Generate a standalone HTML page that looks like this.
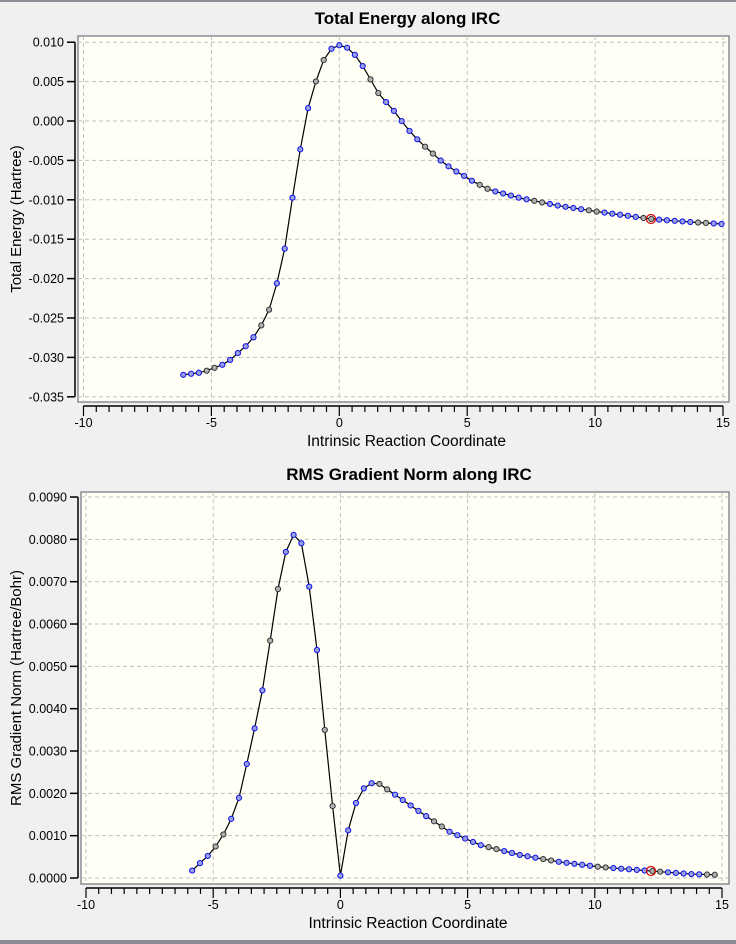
<!DOCTYPE html>
<html><head><meta charset="utf-8"><style>
html,body{margin:0;padding:0;background:#f0f0f0;}
svg{display:block;font-family:"Liberation Sans",Arial,sans-serif;}
</style></head><body>
<svg id="s" width="736" height="944" xmlns="http://www.w3.org/2000/svg"></svg>
<script>
const s=document.getElementById('s');let h='';
h+='<rect x="0" y="0" width="736" height="944" fill="#f0f0f0"/>';
h+='<rect x="0" y="0" width="736" height="2" fill="#8a8e94"/>';
h+='<rect x="0" y="940" width="736" height="4" fill="#8a8e94"/>';
function panel(o){
 const {L,T,R,B,x0,x15,y0px,ypu,ticks,fmt,title,ylab,pts,red,titleY,labY}=o;
 const X=v=>x0+(x15-x0)*(v+10)/25;
 h+=`<rect x="${L}" y="${T}" width="${R-L}" height="${B-T}" fill="#fffff5" stroke="#8a8e94" stroke-width="1.5"/>`;
 for(let v=-10;v<=15;v+=5){const x=X(v);h+=`<line x1="${x}" y1="${T}" x2="${x}" y2="${B}" stroke="#c0c0c0" stroke-dasharray="4,3"/>`;}
 ticks.forEach(t=>{const y=y0px-t*ypu;h+=`<line x1="${L}" y1="${y}" x2="${R}" y2="${y}" stroke="#c0c0c0" stroke-dasharray="4,3"/>`;
  h+=`<line x1="${L-11}" y1="${y}" x2="${L-3}" y2="${y}" stroke="#000" stroke-width="1.5"/>`;
  h+=`<text x="${L-14}" y="${y+4.5}" font-size="12.5" text-anchor="end">${fmt(t)}</text>`;});
 h+=`<line x1="${L-3}" y1="${y0px-ticks[0]*ypu}" x2="${L-3}" y2="${y0px-ticks[ticks.length-1]*ypu}" stroke="#000" stroke-width="1.5"/>`;
 const ay=B+4;
 h+=`<line x1="${X(-10)}" y1="${ay}" x2="${X(15)}" y2="${ay}" stroke="#000" stroke-width="1.5"/>`;
 for(let v=-10;v<=15;v+=0.5){const x=X(v);const maj=Math.abs(v%5)<1e-6;
  h+=`<line x1="${x}" y1="${ay}" x2="${x}" y2="${ay+(maj?10:6)}" stroke="#000" stroke-width="1.2"/>`;
  if(maj)h+=`<text x="${x}" y="${ay+21}" font-size="12.5" text-anchor="middle">${v}</text>`;}
 h+=`<text x="${(L+R)/2+4}" y="${titleY}" font-size="17" font-weight="bold" text-anchor="middle">${title}</text>`;
 h+=`<text x="${(L+R)/2+4-1}" y="${ay+40}" font-size="15.5" text-anchor="middle">Intrinsic Reaction Coordinate</text>`;
 h+=`<text transform="translate(${labY},${(T+B)/2}) rotate(-90)" font-size="15" text-anchor="middle">${ylab}</text>`;
 const xs=[];const c=X(0),st=7.8;
 for(let x=c;x>=pts[0][0]-0.5;x-=st)xs.unshift(x);
 for(let x=c+st;x<=pts[pts.length-1][0]+0.5;x+=st)xs.push(x);
 const out=xs.map(x=>{let i=0;while(i<pts.length-2&&pts[i+1][0]<x)i++;
  const a=pts[i],b=pts[i+1];const t=(x-a[0])/(b[0]-a[0]);return [x,a[1]+(b[1]-a[1])*t];});
 h+=`<polyline points="${out.map(p=>p.join(',')).join(' ')}" fill="none" stroke="#000" stroke-width="1.2"/>`;
 out.forEach((p,i)=>{const g=(i%7==3||i%7==4);h+=`<circle cx="${p[0]}" cy="${p[1]}" r="2.6" fill="${g?'#b0b0b0':'#98a0e0'}" stroke="${g?'#333':'#1010ee'}" stroke-width="1"/>`;});
 h+=`<circle cx="${red[0]}" cy="${red[1]}" r="4.5" fill="none" stroke="#e00000" stroke-width="1.2"/>`;
}
panel({L:78,T:36,R:729,B:402,x0:83.5,x15:723,y0px:121,ypu:39.4/0.005,
 ticks:[0.010,0.005,0,-0.005,-0.010,-0.015,-0.020,-0.025,-0.030,-0.035],fmt:t=>t.toFixed(3),
 title:'Total Energy along IRC',ylab:'Total Energy (Hartree)',titleY:24,labY:21,red:[651,219],
 pts:[[182,375],[189,374],[198,373],[206,371],[214,368],[222,365],[230,360],[238,353],[245,347],[253,338],[261,326],[269,310],[276,287],[283,258],[289,225],[294,186],[300,151],[307,112],[315,84],[323,61],[332,48],[340,45],[348,48],[356,56],[364,68],[372,82],[380,96],[390,106],[398,116],[406,127],[414,136],[422,144],[430,151],[440,160],[448,166],[457,172],[466,177],[474,182],[482,186],[490,190],[520,198],[560,206],[600,212],[651,219],[690,222],[722,224]]});
panel({L:81,T:492,R:729,B:884,x0:86,x15:722,y0px:878,ypu:42.33/0.001,
 ticks:[0.009,0.008,0.007,0.006,0.005,0.004,0.003,0.002,0.001,0],fmt:t=>t.toFixed(4),
 title:'RMS Gradient Norm along IRC',ylab:'RMS Gradient Norm (Hartree/Bohr)',titleY:480,labY:21,red:[651,871],
 pts:[[186,875],[193,870],[199,864],[206,858],[213,850],[219,842],[226,830],[233,815],[240,795],[247,763],[254,731],[260,704],[266,670],[271,635],[278,589],[286,551],[294,534],[302,544],[309,585],[317,650],[325,732],[333,810],[340,878],[348,831],[356,803],[364,788],[372,783],[380,784],[388,790],[397,796],[420,812],[450,832],[480,845],[520,855],[560,862],[600,867],[651,871],[690,874],[722,875]]});
s.innerHTML=h;
</script>
</body></html>
